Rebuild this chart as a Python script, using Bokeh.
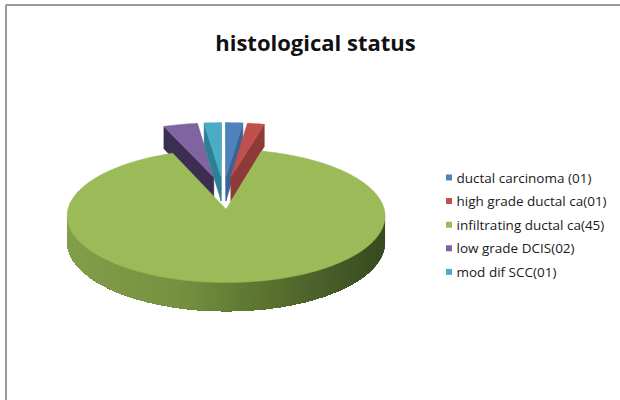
import numpy as np
from bokeh.plotting import figure
from bokeh.models import Range1d, ColumnDataSource
from bokeh.embed import file_html
from bokeh.resources import INLINE
from bokeh.core.properties import value

# Data
title_text = "histological status"
categories = [
    "ductal carcinoma (01)",
    "high grade ductal ca(01)",
    "infiltrating ductal ca(45)",
    "low grade DCIS(02)",
    "mod dif SCC(01)",
]
counts = [1, 1, 45, 2, 1]

# Styling
top_colors = ["#4F81BD", "#C0504D", "#9BBB59", "#8064A2", "#4BACC6"]
side_colors = ["#3A6496", "#8E3A38", "#6E8A3C", "#3C2D52", "#2F7F94"]
explode = 0.26             # every slice pulled out by this share of the radius

# Pie geometry (screen pixels, y grows downward)
CX, CY = 223.0, 192.0      # pie centre
RA, RB = 154.0, 62.5       # horizontal / vertical radius
K = 0.10                   # perspective factor (back is smaller)
TH = 25.0                  # slice thickness


def project(u, v, z):
    d = 1.0 + K * v
    return CX + RA * u / d, CY - RB * v / d + z * TH / d


def lerp_color(stops, t):
    t = min(max(t, 0.0), 1.0)
    for (t0, c0), (t1, c1) in zip(stops[:-1], stops[1:]):
        if t <= t1:
            f = (t - t0) / (t1 - t0) if t1 > t0 else 0.0
            rgb = [int(round(a + (b - a) * f)) for a, b in zip(c0, c1)]
            return "#%02x%02x%02x" % tuple(rgb)
    return "#%02x%02x%02x" % tuple(stops[-1][1])


green_side_stops = [
    (0.0, (130, 158, 74)),
    (0.35, (118, 146, 64)),
    (0.62, (92, 116, 48)),
    (1.0, (58, 76, 34)),
]

total = float(sum(counts))
angles = np.cumsum([0.0] + [360.0 * c / total for c in counts])
big = int(np.argmax(counts))

polys = []  # (layer, xs, ys, fill, line, line_width)
for i, c in enumerate(counts):
    t1, t2 = angles[i], angles[i + 1]
    mid = np.radians((t1 + t2) / 2.0)
    eu, ev = explode * np.sin(mid), explode * np.cos(mid)
    n = max(4, int((t2 - t1) / 1.0))
    th = np.radians(np.linspace(t1, t2, n))
    us = np.concatenate([[eu], eu + np.sin(th)])
    vs = np.concatenate([[ev], ev + np.cos(th)])
    tx, ty = project(us, vs, 0.0)
    bx, by = project(us, vs, 1.0)
    layer = 1 if i == big else 0
    m = len(us)
    visible = []
    for j in range(m):
        k2 = (j + 1) % m
        qx = [tx[j], tx[k2], bx[k2], bx[j]]
        qy = [ty[j], ty[k2], by[k2], by[j]]
        area = sum(qx[q] * qy[(q + 1) % 4] - qx[(q + 1) % 4] * qy[q] for q in range(4))
        if area < -1e-6:
            visible.append((j, qx, qy))
    if i == big and visible:
        # shaded rim: each strip reaches to the end of the rim, so the next
        # strip covers the rest and no seams show between them
        idx = [v[0] for v in visible] + [visible[-1][0] + 1]
        rim_tx, rim_ty = list(tx[idx]), list(ty[idx])
        rim_bx, rim_by = list(bx[idx]), list(by[idx])
        for s, (j, qx, qy) in enumerate(visible):
            xm = (np.mean(qx) - (CX - RA)) / (2 * RA)
            col = lerp_color(green_side_stops, xm)
            xs = rim_tx[s:] + rim_bx[s:][::-1]
            ys = rim_ty[s:] + rim_by[s:][::-1]
            polys.append((layer, xs, ys, col, col, 0.0))
    else:
        for j, qx, qy in visible:
            polys.append((layer, qx, qy, side_colors[i], side_colors[i], 0.5))
    polys.append((layer, list(tx), list(ty), top_colors[i], top_colors[i], 0.5))

polys.sort(key=lambda p: p[0])
src = ColumnDataSource(dict(
    xs=[p[1] for p in polys],
    ys=[p[2] for p in polys],
    fill=[p[3] for p in polys],
    line=[p[4] for p in polys],
    lw=[p[5] for p in polys],
))

p = figure(width=620, height=400, output_backend="svg", toolbar_location=None,
           x_range=Range1d(0, 620), y_range=Range1d(400, 0),
           min_border=0, outline_line_color=None, background_fill_color="white")
p.axis.visible = False
p.grid.visible = False

p.patches("xs", "ys", source=src, fill_color="fill", line_color="line", line_width="lw")

# frame edges
p.line([5.5, 5.5, 620], [400, 4.5, 4.5], line_color="#9a9a9a", line_width=2)

# title
p.text(x=[315], y=[41], text=[title_text], text_font=value("Open Sans"),
       text_font_style="bold", text_font_size="22px", text_align="center",
       text_baseline="alphabetic", text_color="#111111")

# legend
ly = [177 + 23.6 * i for i in range(len(categories))]
p.rect(x=[448.5] * len(categories), y=ly, width=6, height=6, fill_color=top_colors,
       line_color=None)
p.text(x=[456] * len(categories), y=ly, text=categories, text_font=value("Open Sans"),
       text_font_size="13.5px", text_baseline="middle", text_align="left",
       text_color="#1a1a1a")

open("out.html", "w").write(file_html(p, INLINE))
